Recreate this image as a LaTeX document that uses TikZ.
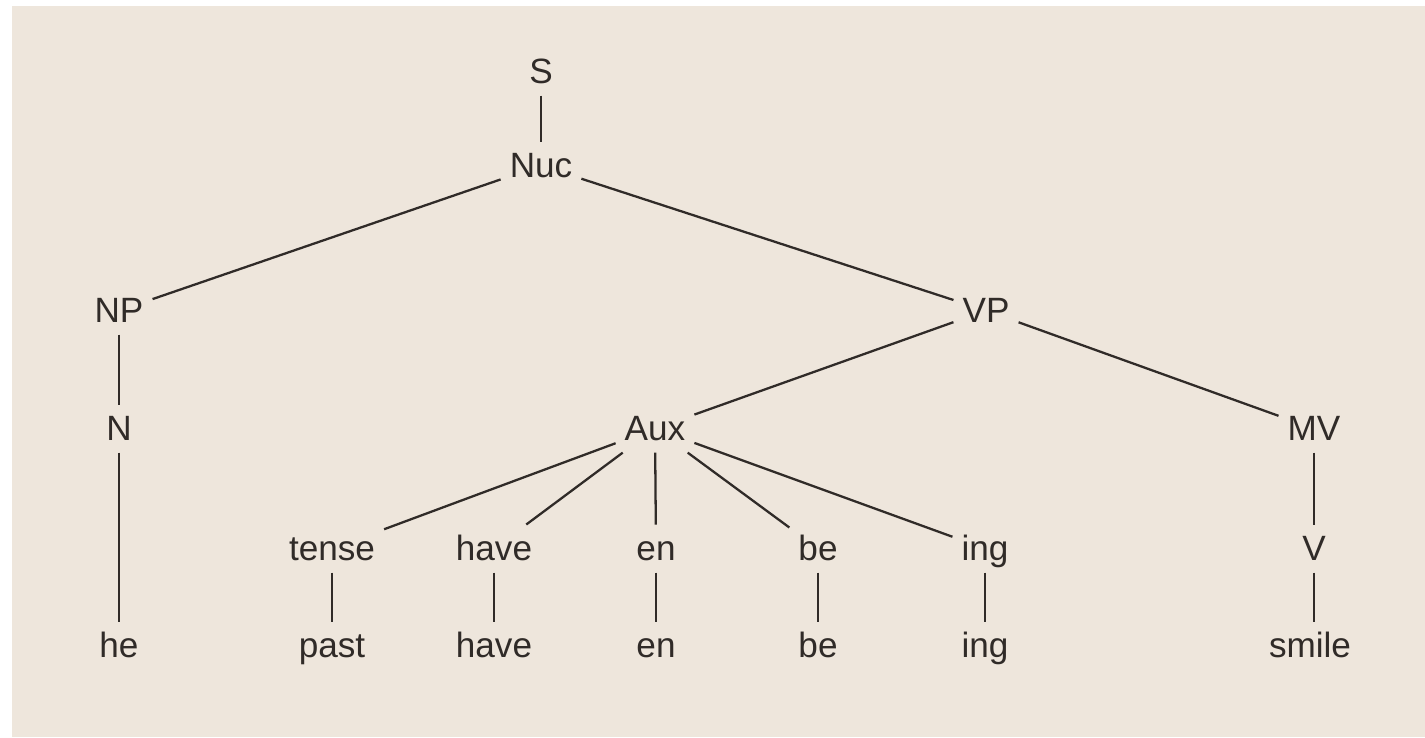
\documentclass[tikz,border=0pt]{standalone}
\usepackage{fontspec}
\setmainfont{Liberation Sans}
\definecolor{paper}{RGB}{238,230,220}
\definecolor{ink}{RGB}{48,43,40}
\tikzset{
	cat/.style={anchor=base, text=ink, font=\fontsize{20}{24}\selectfont, inner sep=5pt, text height=15pt, text depth=2pt},
	branch/.style={draw=ink, line width=1.3pt}
}
\begin{document}
\begin{tikzpicture}[x=0.02cm, y=-0.02cm]
		% Background
		\useasboundingbox (0,0) rectangle (1425,737);
		\fill[white] (0,0) rectangle (1425,737);
		\fill[paper] (12,6) rectangle (1425,737);
		
		% Upper nodes
		\node[cat] (s) at (541,83) {S};
		\node[cat] (nuc) at (541,177) {Nuc};
		\node[cat] (np) at (119,322) {NP};
		\node[cat] (vp) at (986,322) {VP};
		\node[cat] (n) at (119,440) {N};
		\node[cat] (aux) at (655,440) {Aux};
		\node[cat] (mv) at (1314,440) {MV};
		
		% Aux children
		\node[cat] (tense) at (332,560) {tense};
		\node[cat] (have) at (494,560) {have};
		\node[cat] (en) at (656,560) {en};
		\node[cat] (be) at (818,560) {be};
		\node[cat] (ing) at (985,560) {ing};
		\node[cat] (v) at (1314,560) {V};
		
		% Words
		\node[cat] (he) at (119,657) {he};
		\node[cat] (past) at (332,657) {past};
		\node[cat] (have2) at (494,657) {have};
		\node[cat] (en2) at (656,657) {en};
		\node[cat] (be2) at (818,657) {be};
		\node[cat] (ing2) at (985,657) {ing};
		\node[cat] (smile) at (1310,657) {smile};
		
		% Branches
		\draw[branch] (s) -- (nuc);
		\draw[branch] (nuc) -- (np);
		\draw[branch] (nuc) -- (vp);
		\draw[branch] (np) -- (n);
		\draw[branch] (n) -- (he);
		\draw[branch] (vp) -- (aux);
		\draw[branch] (vp) -- (mv);
		\draw[branch] (mv) -- (v);
		\draw[branch] (v.south) -- (smile.north -| v.south);
		\foreach \c in {tense,have,en,be,ing}
			\draw[branch] (aux) -- (\c);
		\draw[branch] (tense) -- (past);
		\draw[branch] (have) -- (have2);
		\draw[branch] (en) -- (en2);
		\draw[branch] (be) -- (be2);
		\draw[branch] (ing) -- (ing2);
	\end{tikzpicture}
\end{document}
